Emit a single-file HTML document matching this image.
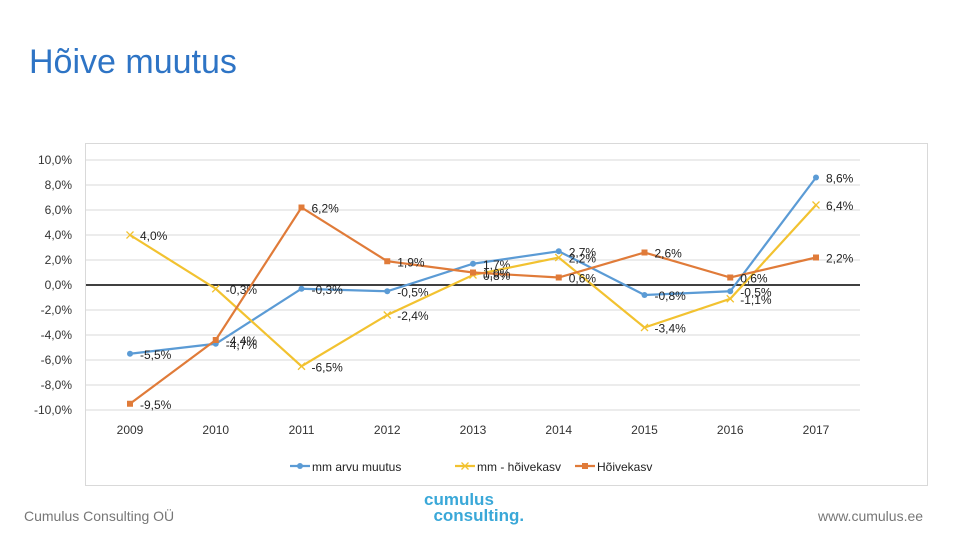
<!DOCTYPE html>
<html><head><meta charset="utf-8"><style>
body{margin:0;width:960px;height:540px;background:#fff;position:relative;overflow:hidden;font-family:"Liberation Sans",sans-serif}
#title{position:absolute;left:29px;top:43px;font-size:34px;color:#2e74c5}
#foot-left{position:absolute;left:24px;top:508px;font-size:14px;color:#777}
#foot-right{position:absolute;left:818px;top:508px;font-size:14px;color:#777}
#logo{position:absolute;left:424px;top:492px;color:#3aa8d8;font-weight:bold;font-size:17px;line-height:16px}
svg{position:absolute;left:0;top:0}
</style></head><body>
<div id="title">Hõive muutus</div>
<svg id="chart" width="960" height="540"></svg>
<div id="foot-left">Cumulus Consulting OÜ</div>
<div id="logo">cumulus<br>&nbsp;&nbsp;consulting.</div>
<div id="foot-right">www.cumulus.ee</div>
<script>
const categories=["2009","2010","2011","2012","2013","2014","2015","2016","2017"];
const seriesNames=["mm arvu muutus","mm  - hõivekasv","Hõivekasv"];
const blueValues=[-5.5,-4.7,-0.3,-0.5,1.7,2.7,-0.8,-0.5,8.6];
const yellowValues=[4.0,-0.3,-6.5,-2.4,0.8,2.2,-3.4,-1.1,6.4];
const orangeValues=[-9.5,-4.4,6.2,1.9,1.0,0.6,2.6,0.6,2.2];
const yTicks=[10,8,6,4,2,0,-2,-4,-6,-8,-10];
const NS="http://www.w3.org/2000/svg";
const svg=document.getElementById('chart');
const x=i=>130+i*85.75;
const y=v=>285-v*12.5;
const fmt=v=>v.toFixed(1).replace('.',',')+'%';
function mk(t,a,p){const e=document.createElementNS(NS,t);for(const k in a)e.setAttribute(k,a[k]);(p||svg).appendChild(e);return e;}
const box=mk('rect',{x:85.5,y:143.5,width:842,height:342,fill:'none',stroke:'#d9d9d9'});


yTicks.forEach(v=>{
  const l=mk('line',{x1:86,x2:860,y1:y(v),y2:y(v),stroke:v===0?'#000':'#d9d9d9','stroke-width':v===0?1.5:1});
  
  
  const t=mk('text',{x:72,y:y(v)+4,'text-anchor':'end','font-size':12,fill:'#333'});
  t.textContent=v.toFixed(1).replace('.',',')+'%';
  
  
});
categories.forEach((c,i)=>{
  const t=mk('text',{x:x(i),y:434,'text-anchor':'middle','font-size':12,fill:'#333'});
  t.textContent=c;
  
  
});
const series=[[blueValues,'#5b9bd5','circle'],[yellowValues,'#f2c230','x'],[orangeValues,'#e07b39','square']];
series.forEach(([vals,col,mark],si)=>{
  const p=mk('polyline',{points:vals.map((v,i)=>x(i)+','+y(v)).join(' '),fill:'none',stroke:col,'stroke-width':2.2});
  
  
  vals.forEach((v,i)=>{
    let m;
    if(mark==='circle')m=mk('circle',{cx:x(i),cy:y(v),r:3,fill:col});
    else if(mark==='square')m=mk('rect',{x:x(i)-3,y:y(v)-3,width:6,height:6,fill:col});
    else m=mk('path',{d:`M${x(i)-3.5},${y(v)-3.5}l7,7M${x(i)-3.5},${y(v)+3.5}l7,-7`,stroke:col,'stroke-width':1.3});
    
    
    const t=mk('text',{x:x(i)+10,y:y(v)+5,'font-size':12,fill:'#222'});
    t.textContent=fmt(v);
    
    
  });
});
const lx=[290,455,575];
series.forEach(([v,col,mark],si)=>{
  const g=mk('g',{});
  
  
  const X=lx[si];
  mk('line',{x1:X,x2:X+20,y1:466,y2:466,stroke:col,'stroke-width':2.2},g);
  if(mark==='circle')mk('circle',{cx:X+10,cy:466,r:3,fill:col},g);
  else if(mark==='square')mk('rect',{x:X+7,y:463,width:6,height:6,fill:col},g);
  else mk('path',{d:`M${X+6.5},462.5l7,7M${X+6.5},469.5l7,-7`,stroke:col,'stroke-width':1.3},g);
  const t=mk('text',{x:X+22,y:471,'font-size':12,fill:'#222'},g);
  t.textContent=seriesNames[si];
});
</script>
</body></html>
